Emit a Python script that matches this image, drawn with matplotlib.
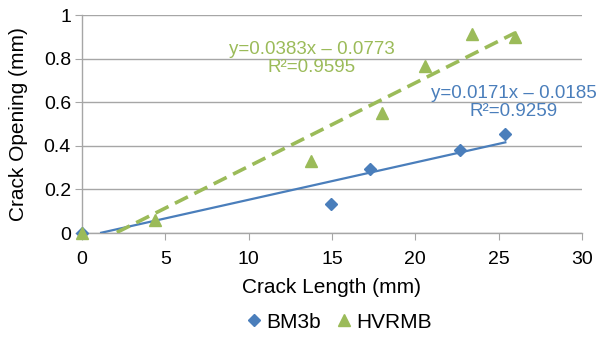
import matplotlib.pyplot as plt
import numpy as np

plt.rcParams['font.family'] = ['Liberation Sans', 'DejaVu Sans']

# data
bm3b_x = [0, 14.95, 17.3, 22.65, 25.4]
bm3b_y = [0, 0.133, 0.295, 0.38, 0.455]
hvrmb_x = [0, 4.4, 13.75, 18.0, 20.55, 23.4, 26.0]
hvrmb_y = [0, 0.06, 0.332, 0.55, 0.765, 0.912, 0.9]

# trendline coefficients shown on the chart
bm3b_fit = (0.0171, -0.0185, 0.9259)
hvrmb_fit = (0.0383, -0.0773, 0.9595)

blue = '#4A7EBB'
green = '#9BBB59'
grid_c = '#A6A6A6'

fig = plt.figure(figsize=(6.01, 3.38), dpi=100)
ax = fig.add_axes([82/601, 105/338, 500/601, 218/338])

# trendlines (drawn from 0 to the last x, clipped at y=0 like Excel)
xb = np.linspace(0, max(bm3b_x), 200)
yb = bm3b_fit[0]*xb + bm3b_fit[1]
ax.plot(xb[yb >= 0], yb[yb >= 0], color=blue, lw=1.6, zorder=3)
xh = np.linspace(0, max(hvrmb_x), 200)
yh = hvrmb_fit[0]*xh + hvrmb_fit[1]
ax.plot(xh[yh >= 0], yh[yh >= 0], color=green, lw=2.6, dashes=(4, 2), zorder=3)

ax.plot(bm3b_x, bm3b_y, 'D', color=blue, ms=6.5, ls='none', label='BM3b', zorder=4, clip_on=False)
ax.plot(hvrmb_x, hvrmb_y, '^', color=green, ms=8, ls='none', label='HVRMB', zorder=4, clip_on=False)

ax.text(13.8, 0.80, f'y={hvrmb_fit[0]}x \u2013 {abs(hvrmb_fit[1])}\nR\u00b2={hvrmb_fit[2]}',
        color=green, fontsize=13.5, ha='center', va='center', linespacing=1.05)
ax.text(25.9, 0.60, f'y={bm3b_fit[0]}x \u2013 {abs(bm3b_fit[1])}\nR\u00b2={bm3b_fit[2]}',
        color=blue, fontsize=13.5, ha='center', va='center', linespacing=1.05)

ax.set_xlim(0, 30)
ax.set_ylim(0, 1)
ax.set_xticks(np.arange(0, 31, 5))
ax.set_yticks([0, 0.2, 0.4, 0.6, 0.8, 1])
ax.set_yticklabels(['0', '0.2', '0.4', '0.6', '0.8', '1'])
ax.grid(axis='y', color=grid_c, lw=1)
ax.set_axisbelow(True)
for s in ['top', 'right']:
    ax.spines[s].set_visible(False)
for s in ['left', 'bottom']:
    ax.spines[s].set_color(grid_c)
    ax.spines[s].set_linewidth(1)
ax.tick_params(axis='x', length=5, color=grid_c, labelsize=14, pad=8)
ax.tick_params(axis='y', length=5, color=grid_c, labelsize=14, pad=3)

ax.set_xlabel('Crack Length (mm)', fontsize=15, labelpad=7)
ax.set_ylabel('Crack Opening (mm)', fontsize=15, labelpad=11)

ax.legend(loc='center', bbox_to_anchor=(338/601, 16/338), bbox_transform=fig.transFigure,
          ncol=2, frameon=False, fontsize=15, handletextpad=0.1, columnspacing=0.6,
          handlelength=1.0, borderpad=0)

fig.savefig('out.png', dpi=100)
